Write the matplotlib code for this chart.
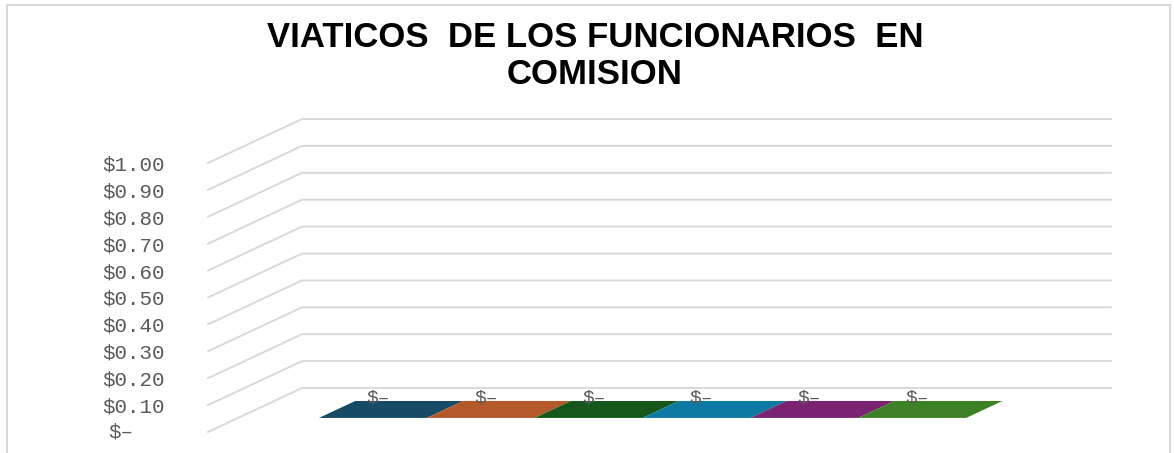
import matplotlib.pyplot as plt
from matplotlib.lines import Line2D
from matplotlib.patches import Polygon, Rectangle
from matplotlib.ticker import FuncFormatter
from matplotlib.transforms import IdentityTransform

# data
title = 'VIATICOS  DE LOS FUNCIONARIOS  EN\nCOMISION'
series_values = [0, 0, 0, 0, 0, 0]
series_colors = ['#174B65', '#B3592A', '#15561B', '#0E79A3', '#7A2370', '#3D8127']
y_ticks = [0.0, 0.1, 0.2, 0.3, 0.4, 0.5, 0.6, 0.7, 0.8, 0.9, 1.0]

W, H, DPI = 1174, 453, 100
DEPTH_DX, DEPTH_DY = 94, 44      # pixel shift from front plane to back wall
BAR_D0, BAR_D1 = 0.32, 0.705     # bar depth range (fraction of full depth)
GAP = 0.75                       # empty space each side of the bar group
grid_color = '#D9D9D9'
text_color = '#595959'
mono = 'Liberation Mono'


def money(v, pos=None):
  if abs(v) < 1e-9:
    return '$–'
  return f'${v:.2f}'


fig = plt.figure(figsize=(W / DPI, H / DPI), dpi=DPI, facecolor='white')
ax = fig.add_axes([208 / W, 21 / H, 809 / W, 269 / H])
ax.set_xlim(-0.5 - GAP, len(series_values) - 0.5 + GAP)
ax.set_ylim(0, 1.0)
ax.patch.set_visible(False)
for s in ax.spines.values():
  s.set_visible(False)
ax.set_xticks([])
ax.set_yticks(y_ticks)
ax.yaxis.set_major_formatter(FuncFormatter(money))
ax.tick_params(axis='y', length=0, pad=31, labelsize=15, labelcolor=text_color)
for lbl in ax.get_yticklabels():
  lbl.set_fontfamily(mono)


def to_px(x, v, depth):
  px, py = ax.transData.transform((x, v))
  return (px + depth * DEPTH_DX, py + depth * DEPTH_DY)


xmin, xmax = ax.get_xlim()

# the accounting-style zero label sits a bit left of the others
zero_lbl = [lbl for t, lbl in zip(ax.get_yticks(), ax.get_yticklabels()) if abs(t) < 1e-9]
for lbl in zero_lbl:
  lbl.set_visible(False)
  zx, zy = to_px(xmin, 0, 0)
  fig.text(zx - 75, zy, money(0), transform=IdentityTransform(), ha='right', va='center',
           fontsize=15, color=text_color, family=mono)

# 3d gridlines: front-left -> back wall -> right
for v in y_ticks:
  pts = [to_px(xmin, v, 0), to_px(xmin, v, 1), to_px(xmax, v, 1)]
  fig.add_artist(Line2D([p[0] for p in pts], [p[1] for p in pts],
                        transform=IdentityTransform(), color=grid_color, lw=1.4))

# bars (flat when zero)
for i, (v, color) in enumerate(zip(series_values, series_colors)):
  x0, x1 = i - 0.5, i + 0.5
  if v > 0:
    front = [to_px(x0, 0, BAR_D0), to_px(x1, 0, BAR_D0), to_px(x1, v, BAR_D0), to_px(x0, v, BAR_D0)]
    side = [to_px(x1, 0, BAR_D0), to_px(x1, 0, BAR_D1), to_px(x1, v, BAR_D1), to_px(x1, v, BAR_D0)]
    fig.add_artist(Polygon(front, closed=True, transform=IdentityTransform(), facecolor=color, edgecolor='none'))
    fig.add_artist(Polygon(side, closed=True, transform=IdentityTransform(), facecolor=color, edgecolor='none'))
  top = [to_px(x0, v, BAR_D0), to_px(x1, v, BAR_D0), to_px(x1, v, BAR_D1), to_px(x0, v, BAR_D1)]
  fig.add_artist(Polygon(top, closed=True, transform=IdentityTransform(), facecolor=color, edgecolor='none'))

  lx, _ = to_px(i, v, BAR_D0)
  _, ly = to_px(i, v, BAR_D1)
  fig.text(lx + 5, ly + 3, money(v), transform=IdentityTransform(), ha='center', va='center',
           fontsize=14, color=text_color, family=mono)

fig.text(595 / W, 1 - 56 / H, title, ha='center', va='center', fontsize=25,
         fontweight='bold', family='Liberation Sans', linespacing=1.12)

fig.add_artist(Rectangle((7 / W, -0.1), 1163 / W, 1.1 - 5 / H, transform=fig.transFigure,
                         fill=False, edgecolor=grid_color, lw=1.5))

fig.savefig('out.png', dpi=DPI)
